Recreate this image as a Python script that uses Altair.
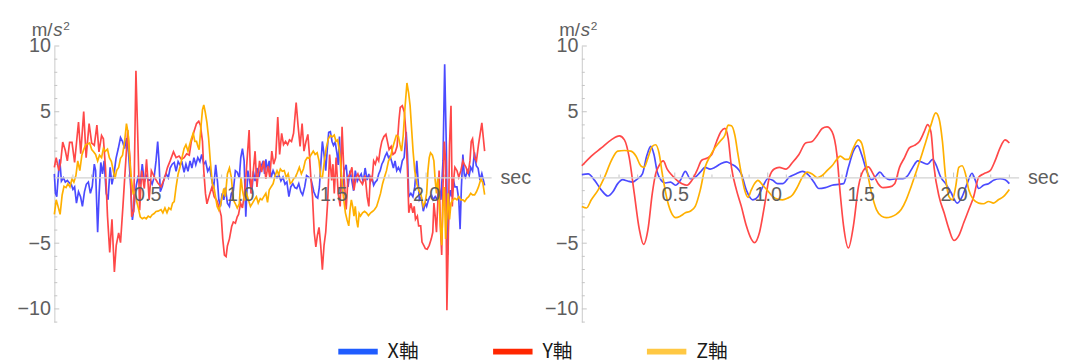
import altair as alt
import pandas as pd

SERIES = ["X軸", "Y軸", "Z軸"]
LINE_COLORS = ["#4b4bff", "#ff4848", "#ffb000"]
LEGEND_COLORS = ["#1f5cff", "#ff2600", "#ffc843"]
X_TICKS = [0.5, 1.0, 1.5, 2.0]
X_MINOR = [round(0.1 * k, 1) for k in range(1, 24) if k % 5 != 0]
Y_TICKS = [-10, -5, 5, 10]
Y_MINOR = [v for v in range(-11, 11) if v % 5 != 0]

# ---------------- left panel (raw) ----------------
raw_x_t = [0.000,0.006,0.013,0.022,0.029,0.038,0.049,0.059,0.070,0.080,0.091,0.100,0.109,0.119,0.130,0.141,0.151,0.162,0.172,0.183,0.194,0.204,0.215,0.222,0.233,0.241,0.250,0.259,0.268,0.279,0.289,0.300,0.310,0.321,0.332,0.344,0.356,0.367,0.378,0.388,0.399,0.409,0.420,0.431,0.441,0.452,0.462,0.473,0.484,0.494,0.505,0.516,0.526,0.537,0.547,0.556,0.563,0.570,0.581,0.592,0.602,0.613,0.623,0.634,0.645,0.655,0.666,0.676,0.687,0.698,0.708,0.719,0.730,0.740,0.751,0.761,0.772,0.783,0.793,0.804,0.814,0.825,0.836,0.846,0.857,0.868,0.878,0.885,0.894,0.903,0.912,0.920,0.931,0.942,0.952,0.963,0.974,0.984,0.995,1.003,1.012,1.021,1.030,1.041,1.051,1.062,1.071,1.080,1.090,1.101,1.111,1.124,1.131,1.138,1.147,1.156,1.166,1.177,1.188,1.198,1.209,1.219,1.230,1.241,1.251,1.262,1.272,1.283,1.294,1.304,1.315,1.326,1.336,1.347,1.357,1.368,1.379,1.387,1.396,1.407,1.417,1.426,1.435,1.442,1.451,1.460,1.469,1.476,1.485,1.494,1.502,1.511,1.520,1.527,1.534,1.541,1.550,1.559,1.570,1.580,1.591,1.601,1.610,1.619,1.630,1.640,1.651,1.662,1.672,1.683,1.692,1.700,1.709,1.718,1.727,1.736,1.745,1.753,1.762,1.771,1.780,1.789,1.798,1.806,1.815,1.824,1.833,1.842,1.851,1.861,1.872,1.882,1.893,1.900,1.907,1.918,1.929,1.939,1.950,1.957,1.964,1.974,1.985,1.996,2.003,2.013,2.020,2.029,2.038,2.049,2.059,2.070,2.080,2.091,2.100,2.109,2.116,2.123,2.130,2.137,2.144,2.155,2.166,2.176,2.183,2.190,2.198,2.205,2.212,2.222,2.232,2.240,2.250,2.260,2.270,2.280,2.290,2.300,2.315]
raw_x_v = [0.27,-1.21,-1.46,0.27,1.38,-0.27,-0.02,-0.35,-0.22,-0.40,-0.52,-0.91,-0.72,-1.95,-1.09,-1.46,-2.20,-1.09,-0.52,-0.35,-1.21,-0.67,1.01,0.52,-4.17,-1.21,1.14,0.27,1.26,-1.21,-1.70,0.77,-0.52,0.27,1.46,2.20,3.04,2.74,2.20,2.99,1.88,-0.22,-3.23,-1.95,-0.59,0.15,-0.52,1.01,-0.35,0.15,-0.22,-0.17,-0.52,0.02,1.26,2.74,1.26,-1.09,-0.67,0.02,0.27,-0.02,0.72,1.01,1.14,0.47,1.21,0.96,1.14,0.40,1.01,0.47,1.26,0.72,1.51,0.96,1.51,1.21,1.75,1.01,1.21,0.47,0.77,-0.10,-0.84,0.96,-0.35,-1.70,-2.20,-1.21,-1.70,-0.77,-1.95,-2.20,-1.21,-1.01,0.52,0.40,-0.02,1.51,2.20,1.26,-2.99,0.52,-0.27,-1.21,0.47,-0.27,0.72,0.02,0.77,1.26,0.27,1.38,0.52,1.26,-0.02,0.52,0.15,-0.02,0.15,-0.27,0.02,-0.52,-0.35,-1.46,-0.72,-0.47,-0.77,-0.84,-0.47,-1.09,-1.33,-0.72,0.15,0.02,-0.02,-0.52,-1.09,-1.46,-1.58,-0.72,1.26,2.74,1.75,0.52,2.25,3.43,3.48,2.74,2.44,2.69,1.88,0.96,3.11,0.40,-1.21,0.52,0.96,-0.72,0.52,-0.27,-1.01,0.52,-0.27,0.02,0.27,-0.35,0.72,-0.20,0.27,-0.35,0.02,-0.59,-0.35,-0.22,0.27,0.52,1.01,1.26,1.63,1.88,1.51,1.63,1.21,0.72,1.26,0.52,0.77,0.47,1.26,1.51,3.48,1.75,-1.46,-1.21,-1.46,-0.72,1.26,-0.22,-1.70,-1.46,-2.57,-1.95,-2.20,-1.70,-1.46,-1.33,-1.70,-1.46,-1.70,-0.72,-1.70,1.26,8.62,2.25,-5.90,-1.70,-0.96,-1.46,0.02,-0.72,-0.72,-1.70,-3.93,-0.72,1.75,0.27,0.02,0.52,0.15,0.77,0.50,1.90,0.90,0.70,-0.20,0.30,-0.60]

raw_y_t = [0.000,0.010,0.024,0.034,0.045,0.059,0.070,0.082,0.095,0.109,0.130,0.142,0.158,0.171,0.187,0.201,0.215,0.229,0.240,0.254,0.264,0.275,0.286,0.298,0.310,0.323,0.333,0.346,0.356,0.369,0.381,0.395,0.408,0.416,0.427,0.439,0.450,0.459,0.470,0.484,0.496,0.510,0.522,0.537,0.556,0.574,0.592,0.609,0.623,0.641,0.655,0.671,0.684,0.698,0.712,0.726,0.737,0.751,0.765,0.777,0.786,0.797,0.804,0.813,0.821,0.837,0.848,0.860,0.874,0.885,0.898,0.906,0.915,0.924,0.931,0.942,0.954,0.963,0.974,0.984,0.991,1.002,1.012,1.023,1.033,1.048,1.058,1.069,1.080,1.090,1.104,1.115,1.127,1.138,1.149,1.159,1.170,1.180,1.191,1.202,1.212,1.223,1.233,1.244,1.255,1.265,1.276,1.287,1.301,1.311,1.322,1.333,1.343,1.354,1.364,1.371,1.380,1.389,1.398,1.407,1.415,1.424,1.433,1.442,1.451,1.460,1.470,1.481,1.492,1.499,1.506,1.516,1.527,1.538,1.548,1.559,1.570,1.580,1.591,1.601,1.612,1.623,1.633,1.644,1.658,1.672,1.683,1.692,1.700,1.709,1.718,1.727,1.736,1.745,1.753,1.762,1.773,1.784,1.792,1.801,1.812,1.822,1.833,1.844,1.854,1.861,1.872,1.883,1.890,1.900,1.907,1.918,1.929,1.936,1.943,1.953,1.960,1.971,1.978,1.989,1.996,2.006,2.017,2.028,2.036,2.042,2.049,2.056,2.063,2.070,2.077,2.084,2.091,2.098,2.105,2.112,2.119,2.126,2.134,2.141,2.148,2.155,2.166,2.176,2.187,2.198,2.205,2.215,2.226,2.236,2.243,2.250,2.261,2.271,2.282,2.300,2.315]
raw_y_v = [0.77,1.51,0.52,1.14,2.69,2.05,1.26,2.67,2.67,1.14,4.22,1.80,5.01,1.51,4.10,2.62,2.44,3.98,1.95,3.19,2.94,0.77,-2.94,-5.70,-3.19,-7.19,-5.16,-4.22,-4.96,-2.20,0.52,3.60,1.26,-2.99,-2.57,8.12,2.49,-2.49,0.52,-0.84,1.38,-1.70,0.52,0.07,-0.40,-0.72,-0.10,0.77,1.26,1.95,1.51,1.63,1.38,1.51,1.80,1.70,2.74,3.48,4.10,4.27,3.98,2.74,0.52,-1.21,-2.00,-1.21,-0.72,-1.46,-1.75,-2.20,-2.94,-4.67,-5.90,-6.02,-5.21,-4.67,-3.73,-3.38,-3.48,-2.99,-2.81,-1.95,-2.32,-1.21,0.52,3.60,-1.21,0.27,2.00,-0.72,1.26,0.40,1.26,-0.10,0.89,0.02,2.00,1.01,1.51,4.59,1.75,3.36,2.49,2.74,2.49,2.86,2.74,3.36,5.70,3.98,2.37,4.10,2.00,2.74,3.28,2.00,0.02,-1.46,-4.17,-5.28,-4.42,-3.80,-5.16,-7.01,-5.16,-4.17,-1.95,1.75,-0.22,1.01,-1.21,1.51,-1.21,-2.20,3.85,0.02,-2.44,0.02,0.27,0.77,-0.96,0.02,0.27,-0.22,-0.52,0.15,-1.46,-2.20,0.02,-0.22,1.26,1.01,1.51,1.26,2.12,2.74,3.11,3.28,2.74,2.12,2.37,1.75,1.88,2.37,4.35,5.33,5.46,4.96,3.73,0.52,-2.69,-1.95,-2.69,-2.20,-3.19,-2.94,-3.68,-3.68,-4.91,-5.21,-5.41,-5.46,-5.16,-4.67,-4.17,-1.95,-2.94,-4.17,-1.95,0.52,-3.68,-5.90,-0.72,2.74,1.26,-10.10,-5.16,2.49,5.46,-2.20,-0.22,0.77,0.52,0.02,0.52,1.26,1.01,0.77,0.27,1.26,2.74,2.94,1.51,1.26,2.49,4.15,2.00]

raw_z_t = [0.000,0.010,0.020,0.031,0.042,0.052,0.063,0.073,0.084,0.095,0.105,0.116,0.126,0.137,0.148,0.158,0.169,0.179,0.190,0.201,0.211,0.222,0.233,0.243,0.254,0.264,0.275,0.286,0.296,0.307,0.317,0.326,0.335,0.346,0.356,0.367,0.378,0.388,0.397,0.406,0.415,0.424,0.434,0.443,0.452,0.462,0.473,0.484,0.494,0.505,0.516,0.526,0.537,0.547,0.558,0.574,0.584,0.595,0.606,0.616,0.627,0.636,0.645,0.655,0.666,0.676,0.687,0.698,0.708,0.719,0.728,0.737,0.747,0.756,0.765,0.772,0.779,0.788,0.797,0.804,0.812,0.821,0.830,0.839,0.850,0.859,0.867,0.876,0.885,0.894,0.903,0.912,0.920,0.931,0.942,0.952,0.963,0.974,0.984,0.995,1.004,1.012,1.023,1.034,1.044,1.055,1.066,1.076,1.087,1.097,1.108,1.117,1.127,1.138,1.147,1.156,1.166,1.177,1.188,1.198,1.207,1.216,1.226,1.237,1.248,1.258,1.269,1.278,1.287,1.297,1.308,1.318,1.329,1.340,1.350,1.361,1.371,1.382,1.393,1.403,1.414,1.424,1.433,1.442,1.453,1.463,1.474,1.485,1.495,1.506,1.515,1.524,1.532,1.539,1.546,1.555,1.566,1.575,1.584,1.591,1.598,1.605,1.612,1.619,1.626,1.633,1.640,1.647,1.658,1.669,1.679,1.690,1.702,1.713,1.723,1.734,1.745,1.755,1.766,1.776,1.787,1.798,1.808,1.819,1.830,1.840,1.851,1.860,1.868,1.877,1.886,1.897,1.906,1.914,1.922,1.930,1.939,1.950,1.960,1.971,1.978,1.985,1.994,2.003,2.010,2.017,2.024,2.034,2.042,2.049,2.056,2.063,2.070,2.077,2.084,2.091,2.098,2.105,2.112,2.119,2.126,2.134,2.144,2.155,2.166,2.176,2.187,2.198,2.208,2.219,2.229,2.240,2.250,2.261,2.271,2.282,2.295,2.305,2.315]
raw_z_v = [-2.81,-1.70,-2.20,-2.81,-1.33,-0.67,-0.77,-0.47,-0.72,-0.10,-0.35,0.15,1.26,0.52,1.70,2.12,2.49,2.54,2.62,2.12,1.95,1.75,1.26,1.70,1.51,2.20,2.00,2.15,1.51,1.21,0.52,-0.10,0.52,0.77,1.46,1.70,2.74,4.10,3.36,1.26,-0.22,-1.21,-1.09,-1.83,-2.32,-2.99,-3.14,-3.04,-3.14,-2.94,-3.04,-2.84,-2.74,-2.59,-2.56,-2.44,-2.69,-2.32,-2.69,-2.32,-2.44,-1.95,-1.83,-0.72,0.27,0.77,1.51,2.20,2.49,2.00,2.49,2.94,3.36,2.74,2.74,2.37,2.12,3.73,5.16,5.51,4.96,4.17,2.99,1.26,-0.47,-0.77,-1.46,-2.20,-2.49,-2.07,-1.46,-0.84,-1.46,0.27,0.72,0.02,-1.70,-2.00,-2.32,-2.00,0.02,-0.96,-1.75,-1.21,-1.70,-2.20,-1.95,-1.70,-1.46,-1.95,-1.60,-1.70,-1.46,-1.21,-1.90,-0.96,-0.72,-0.47,0.15,0.52,0.22,0.64,0.47,0.52,-0.02,0.27,-0.47,-0.35,-0.10,0.02,0.40,0.77,0.27,0.64,1.26,1.51,1.46,1.75,2.00,1.75,1.88,1.26,0.02,-0.02,1.26,2.25,2.94,3.19,3.09,3.23,2.74,2.86,2.20,1.26,0.02,-1.46,-2.69,-3.23,-3.68,-2.44,-1.70,-2.20,-2.94,-2.20,-3.23,-3.80,-2.74,-2.94,-2.69,-2.57,-2.69,-2.90,-2.69,-2.57,-2.44,-2.20,-1.70,-1.21,-0.47,0.02,0.52,1.26,1.51,2.20,2.74,3.19,3.11,2.49,2.00,3.19,5.21,7.19,6.44,5.46,3.73,2.00,0.52,-0.47,-0.96,-1.26,-1.70,-2.20,-1.95,-1.21,0.52,1.51,1.88,1.70,1.26,-0.22,-1.21,0.02,-1.70,-3.68,-5.16,-2.20,-0.72,-4.67,-2.94,-1.21,-3.19,-1.95,-1.70,-1.58,-1.70,-1.46,-1.70,-1.70,-1.83,-1.58,-1.46,-1.21,-1.33,-1.33,-1.09,-0.72,-0.10,-0.40,-1.30]

# ---------------- right panel (smoothed) ----------------
sm_x_t = [0.000,0.034,0.069,0.105,0.140,0.167,0.193,0.220,0.246,0.273,0.300,0.326,0.349,0.371,0.388,0.406,0.427,0.450,0.477,0.504,0.530,0.557,0.583,0.610,0.637,0.663,0.690,0.716,0.743,0.778,0.805,0.832,0.858,0.885,0.920,0.947,0.973,1.000,1.027,1.053,1.080,1.115,1.151,1.186,1.222,1.248,1.275,1.310,1.346,1.381,1.408,1.434,1.461,1.484,1.505,1.532,1.559,1.585,1.603,1.629,1.656,1.691,1.727,1.754,1.780,1.807,1.833,1.860,1.887,1.904,1.931,1.957,1.984,2.020,2.046,2.073,2.099,2.117,2.135,2.161,2.188,2.215,2.250,2.277,2.300]
sm_x_v = [0.22,0.27,-0.22,-0.96,-1.41,-1.09,-0.47,-0.17,-0.27,-0.35,-0.10,0.27,1.63,2.37,1.75,0.40,-0.22,-0.42,-0.35,-0.59,-0.22,0.47,-0.10,0.02,0.40,0.77,0.64,0.77,1.01,1.19,1.01,0.77,0.27,-0.96,-1.70,-1.46,-0.72,-0.10,-0.22,-0.47,-0.47,0.02,0.27,0.47,0.15,-0.35,-0.84,-0.77,-0.59,-0.52,-0.47,0.77,2.00,2.42,1.75,0.52,-0.17,0.15,0.40,0.02,-0.17,-0.10,-0.10,0.15,0.77,1.26,1.14,1.01,1.38,1.01,0.02,-0.47,-1.09,-1.95,-1.46,-0.47,0.32,-0.22,-0.84,-0.59,-0.47,-0.22,-0.10,-0.17,-0.47]

sm_y_t = [0.000,0.051,0.105,0.158,0.202,0.229,0.255,0.282,0.309,0.332,0.356,0.379,0.397,0.415,0.438,0.459,0.486,0.512,0.539,0.566,0.592,0.619,0.645,0.672,0.699,0.725,0.748,0.770,0.787,0.805,0.832,0.858,0.885,0.911,0.929,0.956,0.982,1.009,1.035,1.062,1.098,1.133,1.168,1.204,1.239,1.266,1.293,1.319,1.346,1.372,1.390,1.408,1.434,1.461,1.488,1.514,1.541,1.567,1.594,1.621,1.656,1.683,1.709,1.736,1.762,1.789,1.816,1.842,1.860,1.878,1.895,1.922,1.949,1.975,2.002,2.028,2.055,2.082,2.108,2.135,2.161,2.197,2.223,2.250,2.277,2.300]
sm_y_v = [0.89,1.63,2.25,2.86,3.16,2.86,1.51,-1.21,-3.93,-5.09,-3.93,-1.21,0.27,0.89,1.26,0.64,0.15,-0.22,-0.47,-0.59,-0.22,0.52,1.31,1.46,1.75,2.74,3.48,3.73,2.99,0.77,-0.96,-2.20,-3.68,-4.67,-4.96,-4.17,-2.20,0.02,0.64,0.77,0.64,1.14,1.75,2.62,2.74,3.19,3.73,3.85,3.48,1.75,-1.21,-3.68,-5.36,-3.68,-0.72,0.52,0.81,0.27,-0.47,-0.77,-0.72,-0.47,0.77,1.51,2.25,2.44,2.74,3.48,4.02,3.48,0.77,-1.46,-2.69,-3.93,-4.79,-4.42,-3.43,-2.44,-1.46,0.02,0.27,0.52,1.26,2.25,2.86,2.62]

sm_z_t = [0.000,0.025,0.051,0.087,0.122,0.158,0.193,0.229,0.264,0.291,0.317,0.335,0.353,0.379,0.397,0.415,0.433,0.459,0.486,0.504,0.530,0.557,0.583,0.610,0.637,0.663,0.690,0.716,0.743,0.770,0.787,0.805,0.823,0.840,0.858,0.876,0.894,0.911,0.929,0.947,0.973,1.000,1.027,1.053,1.080,1.106,1.133,1.160,1.186,1.213,1.239,1.266,1.293,1.319,1.346,1.372,1.390,1.417,1.434,1.461,1.488,1.505,1.523,1.541,1.559,1.585,1.612,1.638,1.665,1.691,1.718,1.745,1.771,1.798,1.824,1.851,1.878,1.904,1.922,1.940,1.957,1.975,1.993,2.011,2.028,2.046,2.064,2.082,2.108,2.135,2.161,2.188,2.215,2.241,2.268,2.300]
sm_z_v = [-2.20,-2.32,-1.70,-0.96,0.02,1.26,2.00,2.05,2.00,1.63,0.89,0.77,1.38,2.37,2.49,1.88,0.27,-1.70,-2.81,-3.06,-2.94,-2.69,-2.57,-2.20,-0.96,0.77,1.63,2.25,2.74,3.23,3.98,3.93,3.23,1.75,0.27,-0.96,-1.51,-0.96,-0.47,-0.22,-0.59,-1.01,-1.46,-1.65,-1.70,-1.58,-1.33,-0.72,0.02,0.40,0.27,-0.02,0.15,0.52,0.89,1.38,1.63,1.38,1.38,2.25,2.86,2.62,1.51,0.02,-1.21,-2.44,-2.94,-3.06,-2.99,-2.81,-2.44,-1.70,-0.72,0.40,1.51,2.74,3.98,4.91,4.47,2.74,0.02,-1.46,-1.70,-0.72,0.77,0.89,0.27,-0.96,-1.70,-1.95,-2.00,-1.83,-1.95,-1.70,-1.46,-0.91]


def frame(parts):
    rows = []
    for name, ts, vs in parts:
        for t, v in zip(ts, vs):
            rows.append({"axis": name, "t": t, "v": v})
    return pd.DataFrame(rows)


raw_df = frame([("X軸", raw_x_t, raw_x_v), ("Y軸", raw_y_t, raw_y_v), ("Z軸", raw_z_t, raw_z_v)])
sm_df = frame([("X軸", sm_x_t, sm_x_v), ("Y軸", sm_y_t, sm_y_v), ("Z軸", sm_z_t, sm_z_v)])
yminor_df = pd.DataFrame({"v": Y_MINOR})
ymajor_df = pd.DataFrame({"v": Y_TICKS})
xminor_df = pd.DataFrame({"t": X_MINOR})
xmajor_df = pd.DataFrame({"t": X_TICKS})

W, H = 443, 280
XDOM = [0, 2.35]
YDOM = [-11, 10]
ZERO_FROM_BOTTOM = H * (0 - YDOM[0]) / (YDOM[1] - YDOM[0])
ZERO_FROM_TOP = H - ZERO_FROM_BOTTOM
GRAY = "#5e5e5e"
AXIS_GRAY = "#d2d2d2"
TICK_GRAY = "#c4c4c4"
FONT = "Liberation Sans"


def panel(df, interp, show_legend):
    xs = alt.Scale(domain=XDOM, nice=False, zero=False)
    ys = alt.Scale(domain=YDOM, nice=False)
    x = alt.X(
        "t:Q", scale=xs,
        axis=alt.Axis(
            values=X_TICKS, format=".1f", offset=-ZERO_FROM_BOTTOM, grid=False,
            domainColor=AXIS_GRAY, domainWidth=1.2, ticks=False, labelPadding=7,
            labelFontSize=20, labelColor=GRAY, labelFont=FONT, zindex=1,
            title="sec", titleX=W + 9, titleY=0, titleAlign="left",
            titleBaseline="middle", titleFontSize=20, titleFontWeight="normal",
            titleColor=GRAY, titleFont=FONT,
        ),
    )
    y = alt.Y(
        "v:Q", scale=ys,
        axis=alt.Axis(
            values=Y_TICKS, grid=False, domainColor=AXIS_GRAY, domainWidth=1.2,
            ticks=False, labelPadding=4, labelFontSize=20, labelColor=GRAY,
            labelFont=FONT, title=None,
        ),
    )
    stroke = alt.Stroke("axis:N", scale=alt.Scale(domain=SERIES, range=LINE_COLORS), legend=None)
    lines = alt.Chart(df).mark_line(strokeWidth=1.7, interpolate=interp).encode(x=x, y=y, stroke=stroke)

    if show_legend:
        legend = alt.Legend(
            title=None, orient="none", legendX=285, legendY=287,
            direction="horizontal", symbolType="stroke", symbolSize=1600,
            symbolStrokeWidth=6, symbolOpacity=1, labelFontSize=20,
            labelFont="Noto Sans CJK JP", labelColor="#1a1a1a", labelOffset=7,
            columnPadding=63,
        )
    else:
        legend = None
    color = alt.Color("axis:N", scale=alt.Scale(domain=SERIES, range=LEGEND_COLORS), legend=legend)
    carrier = alt.Chart(df).mark_line(opacity=0, strokeWidth=0.1).encode(x=x, y=y, color=color)

    yminor = alt.Chart(yminor_df).mark_rule(color=TICK_GRAY, strokeWidth=1).encode(
        y=alt.Y("v:Q", scale=ys), x=alt.value(0), x2=alt.value(3))
    ymajor = alt.Chart(ymajor_df).mark_rule(color=TICK_GRAY, strokeWidth=1).encode(
        y=alt.Y("v:Q", scale=ys), x=alt.value(0), x2=alt.value(5))
    xminor = alt.Chart(xminor_df).mark_rule(color=TICK_GRAY, strokeWidth=1).encode(
        x=alt.X("t:Q", scale=xs), y=alt.value(ZERO_FROM_TOP), y2=alt.value(ZERO_FROM_TOP - 3))
    xmajor = alt.Chart(xmajor_df).mark_rule(color=TICK_GRAY, strokeWidth=1).encode(
        x=alt.X("t:Q", scale=xs), y=alt.value(ZERO_FROM_TOP), y2=alt.value(ZERO_FROM_TOP - 5))

    unit_m = alt.Chart(pd.DataFrame({"s": ["m/"]})).mark_text(
        align="left", baseline="alphabetic", fontSize=19, font=FONT, color=GRAY
    ).encode(text="s:N", x=alt.value(-23), y=alt.value(-10))
    unit_s = alt.Chart(pd.DataFrame({"s": ["s"]})).mark_text(
        align="left", baseline="alphabetic", fontSize=19, font=FONT, color=GRAY, fontStyle="italic"
    ).encode(text="s:N", x=alt.value(-1), y=alt.value(-10))
    unit_2 = alt.Chart(pd.DataFrame({"s": ["2"]})).mark_text(
        align="left", baseline="alphabetic", fontSize=12, font=FONT, color=GRAY
    ).encode(text="s:N", x=alt.value(9), y=alt.value(-16))
    return alt.layer(
        yminor, ymajor, xminor, xmajor, carrier, lines, unit_m, unit_s, unit_2
    ).properties(width=W, height=H)


left = panel(raw_df, "linear", True)
right = panel(sm_df, "monotone", False)

chart = (
    alt.hconcat(left, right, spacing=92, bounds="flush")
    .properties(padding={"left": 9, "top": 10, "right": 5, "bottom": 0})
    .configure(font=FONT)
    .configure_view(stroke=None)
)

chart.save("out.html", embed_options={"renderer": "svg", "actions": False})
